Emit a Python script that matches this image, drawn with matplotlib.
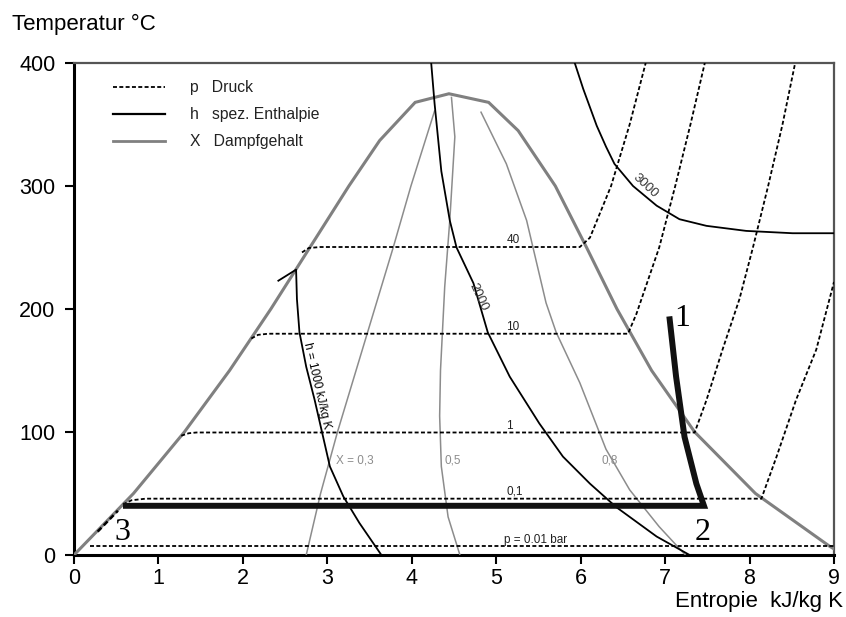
import matplotlib
matplotlib.use("Agg")
import matplotlib.pyplot as plt
from matplotlib.lines import Line2D

plt.rcParams['font.family'] = ['Liberation Sans', 'DejaVu Sans']

# ---------------- data ----------------
x_ticks = [0, 1, 2, 3, 4, 5, 6, 7, 8, 9]
y_ticks = [0, 100, 200, 300, 400]

# saturation dome (entropy kJ/kgK, temperature °C)
dome_s = [0.0, 0.704, 1.307, 1.842, 2.331, 2.793, 3.255, 3.62, 4.04, 4.44, 4.91, 5.26, 5.70, 6.07, 6.43, 6.84, 7.35, 8.07, 8.95, 9.0]
dome_T = [0, 50, 100, 150, 200, 250, 300, 337, 368, 375, 368, 345, 300, 250, 200, 150, 100, 50, 7, 5]

# isobars (dashed)
p001_s = [0.19, 9.0]
p001_T = [7, 7]
p01_s = [0.58, 0.68, 0.85, 8.14, 8.32, 8.55, 8.79, 9.0]
p01_T = [41, 44.5, 45.8, 45.8, 80, 126, 167, 222]
p1_s = [1.27, 1.36, 1.45, 7.35, 7.49, 7.68, 7.88, 8.04, 8.22, 8.39, 8.54]
p1_T = [97, 99, 99.6, 99.6, 126, 167, 208, 250, 300, 350, 400]
p10_s = [2.10, 2.18, 2.30, 6.56, 6.66, 6.93, 7.12, 7.30, 7.47]
p10_T = [176, 179, 179.9, 179.9, 196, 250, 300, 350, 400]
p40_s = [2.70, 2.78, 2.92, 5.99, 6.11, 6.36, 6.58, 6.77]
p40_T = [246, 249.6, 250.4, 250.4, 258, 300, 350, 400]
p_label_text = ["p = 0.01 bar", "0,1", "1", "10", "40"]
p_label_T = [7, 45.8, 99.6, 179.9, 250.4]

# isenthalps (solid black)
h1000_s = [2.42, 2.63, 2.64, 2.67, 2.75, 2.85, 2.95, 3.03, 3.19, 3.38, 3.64]
h1000_T = [223, 232, 208, 181, 153, 126, 96, 72, 47.5, 26, 0]
h2000_s = [4.23, 4.27, 4.35, 4.45, 4.53, 4.73, 4.90, 5.16, 5.51, 5.79, 6.11, 6.42, 6.90, 7.29]
h2000_T = [400, 367, 312, 272, 250, 221, 181, 145, 107, 80, 58, 39, 15, 0]
h3000_s = [5.93, 6.03, 6.19, 6.30, 6.40, 6.62, 6.90, 7.17, 7.49, 7.96, 8.51, 9.0]
h3000_T = [400, 379, 349, 332, 318, 300, 284, 273, 267.6, 263.5, 261.6, 261.6]

# lines of constant vapour quality (gray)
x03_s = [2.75, 2.92, 3.12, 3.34, 3.56, 3.78, 3.99, 4.27]
x03_T = [0, 50, 100, 150, 200, 250, 300, 361]
x05_s = [4.57, 4.43, 4.35, 4.33, 4.34, 4.39, 4.45, 4.51, 4.47]
x05_T = [0, 31, 72, 113, 150, 218, 272, 340, 372]
x08_s = [7.24, 6.93, 6.58, 6.30, 5.99, 5.71, 5.59, 5.36, 5.12, 4.82]
x08_T = [0, 23, 53, 86, 140, 181, 205, 272, 318, 360]

# Rankine cycle (thick)
cycle_s = [7.05, 7.13, 7.23, 7.37, 7.46, 0.58]
cycle_T = [194, 145, 96, 58, 40, 40]
pump_s = [0.28, 0.52]
pump_T = [19, 36]

# ---------------- figure ----------------
W, H = 846, 617
fig = plt.figure(figsize=(W / 100, H / 100), dpi=100)
ax = fig.add_axes([74 / W, (H - 555) / H, (834 - 74) / W, (555 - 63) / H])

DOME = '#808080'
XC = '#8c8c8c'
dash = (0, (2.2, 1.3))

ax.plot(dome_s, dome_T, color=DOME, lw=2.2, zorder=3, solid_joinstyle='miter')

for s, T in [(p001_s, p001_T), (p01_s, p01_T), (p1_s, p1_T), (p10_s, p10_T), (p40_s, p40_T)]:
    ax.plot(s, T, color='black', lw=1.3, linestyle=dash, zorder=4)

for s, T in [(h1000_s, h1000_T), (h2000_s, h2000_T), (h3000_s, h3000_T)]:
    ax.plot(s, T, color='black', lw=1.3, zorder=4)

for s, T in [(x03_s, x03_T), (x05_s, x05_T), (x08_s, x08_T)]:
    ax.plot(s, T, color=XC, lw=1.1, zorder=3)

ax.plot(cycle_s, cycle_T, color='#111111', lw=4.3, zorder=6, solid_joinstyle='miter', solid_capstyle='butt')
ax.plot(pump_s, pump_T, color='black', lw=1.8, linestyle=dash, zorder=5)

# isobar labels
for txt, T in zip(p_label_text, p_label_T):
    if txt.startswith('p ='):
        ax.text(5.46, T + 0.5, txt, fontsize=8.5, ha='center', va='bottom', color='#222222', zorder=7)
    else:
        ax.text(5.12, T + 0.8, txt, fontsize=8.5, ha='left', va='bottom', color='#222222', zorder=7)

# isenthalp labels
ax.text(2.88, 138, 'h = 1000 kJ/kg K', fontsize=8.5, rotation=-77, ha='center', va='center', zorder=7)
ax.text(4.79, 210, '2000', fontsize=9.5, rotation=-65, ha='center', va='center', color='#333333', zorder=7)
ax.text(6.76, 300, '3000', fontsize=9.5, rotation=-43, ha='center', va='center', color='#333333', zorder=7)

# quality labels
ax.text(3.33, 77, 'X = 0,3', fontsize=8.5, color=XC, ha='center', va='center', zorder=7)
ax.text(4.39, 77, '0,5', fontsize=8.5, color=XC, ha='left', va='center', zorder=7)
ax.text(6.34, 77, '0,8', fontsize=8.5, color=XC, ha='center', va='center', zorder=7)

# state point labels
for lbl, s, T in [('1', 7.20, 192), ('2', 7.44, 18), ('3', 0.57, 18)]:
    ax.text(s, T, lbl, fontsize=23, family='Liberation Serif', ha='center', va='center', zorder=8)

ax.set_xlim(0, 9)
ax.set_ylim(0, 400)
ax.set_xticks(x_ticks)
ax.set_yticks(y_ticks)
ax.tick_params(axis='both', direction='out', length=6.5, width=1.5, labelsize=15.5, colors='black')
ax.tick_params(axis='y', pad=7)
ax.tick_params(axis='x', pad=3)
for side in ['left', 'bottom']:
    ax.spines[side].set_linewidth(2.2)
    ax.spines[side].set_color('black')
for side in ['top', 'right']:
    ax.spines[side].set_linewidth(1.6)
    ax.spines[side].set_color('#555555')

handles = [Line2D([], [], color='black', lw=1.3, linestyle=dash),
           Line2D([], [], color='black', lw=1.6),
           Line2D([], [], color=DOME, lw=2.0)]
labels = ['p   Druck', 'h   spez. Enthalpie', 'X   Dampfgehalt']
ax.legend(handles, labels, loc='upper left', bbox_to_anchor=((113 - 74) / 760, 1 - (80 - 63) / 492),
          frameon=False, fontsize=11.3, handlelength=3.3, handletextpad=1.6, labelspacing=0.78,
          borderpad=0, borderaxespad=0, labelcolor='#222222')

fig.text(12 / W, 1 - 24 / H, 'Temperatur °C', fontsize=16, ha='left', va='center')
fig.text(843 / W, 1 - 602 / H, 'Entropie  kJ/kg K', fontsize=16, ha='right', va='center')

fig.savefig('out.png', dpi=100)
